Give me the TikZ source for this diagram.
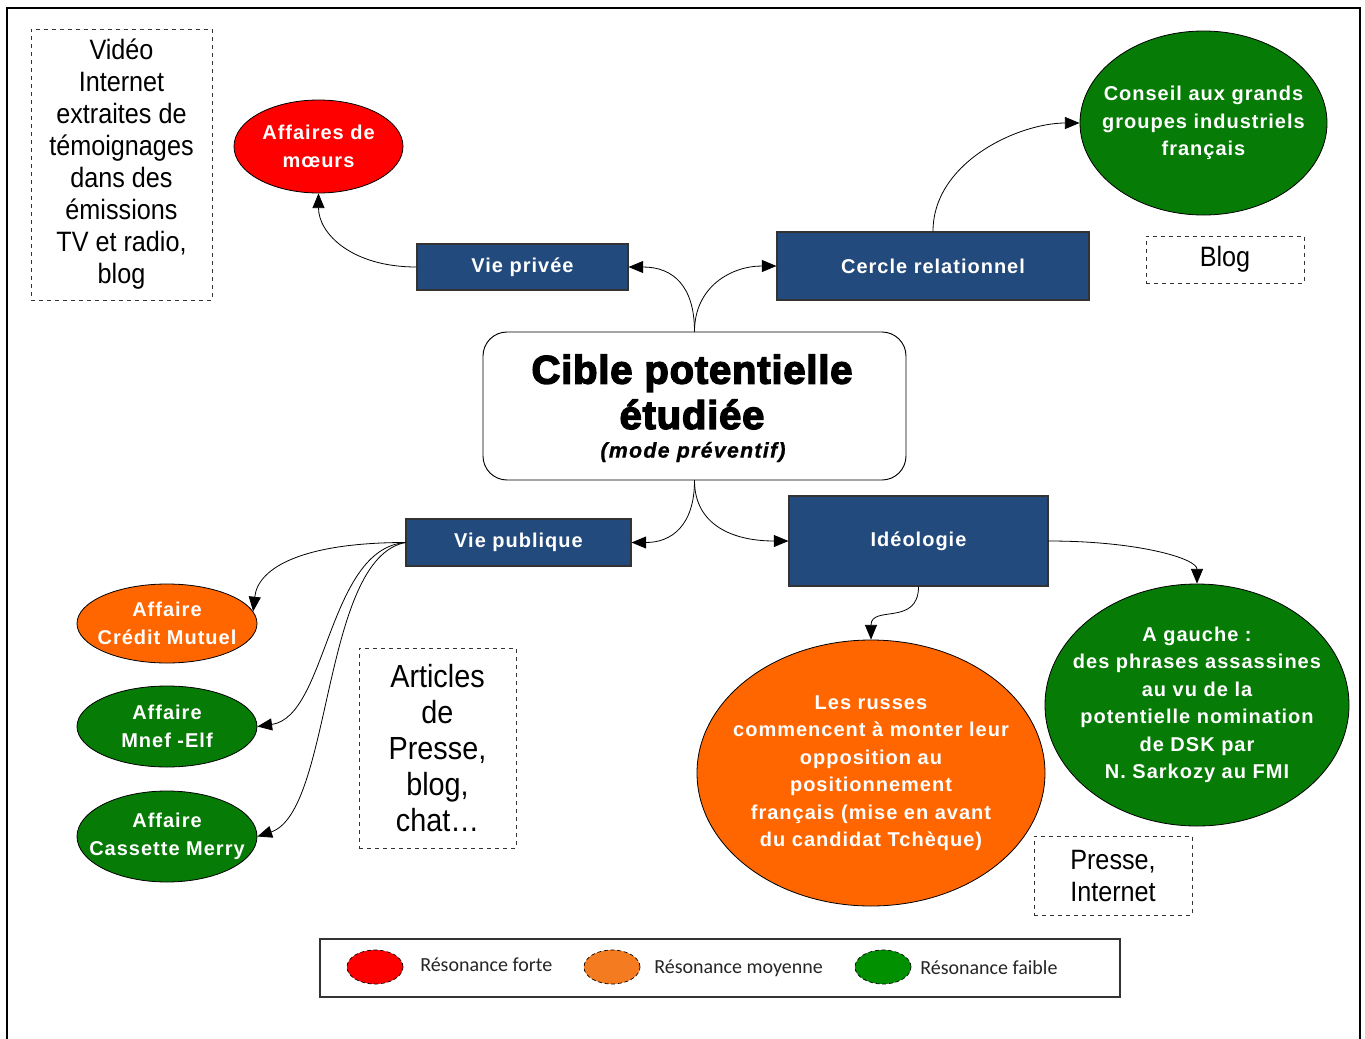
\documentclass[tikz,border=0pt]{standalone}
\usepackage{fontspec}
\setmainfont{Liberation Sans}
\newfontfamily\narrowfont[FakeStretch=0.9]{Liberation Sans}
\newfontfamily\nodefont[LetterSpace=5]{Liberation Sans}
\newfontfamily\heavyfont[FakeBold=3.5,LetterSpace=2]{Liberation Sans}
\newfontfamily\modefont[LetterSpace=6,FakeBold=1]{Liberation Sans}
\newfontfamily\legfont{Carlito}
\usetikzlibrary{shapes.geometric,arrows.meta}
\definecolor{boxblue}{HTML}{224A7C}
\definecolor{myred}{HTML}{FF0000}
\definecolor{myorange}{HTML}{FF6600}
\definecolor{mygreen}{HTML}{067B06}
\definecolor{legorange}{HTML}{F47B20}
\definecolor{leggreen}{HTML}{009000}
\tikzset{
  bluebox/.style={draw=black!80,fill=boxblue,text=white,line width=0.8pt,inner sep=0pt,
    font=\nodefont\bfseries\fontsize{15}{20.6}\selectfont,align=center},
  bubble/.style={ellipse,draw=black,line width=0.6pt,inner sep=0pt},
  bubtext/.style={text=white,align=center,font=\nodefont\bfseries\fontsize{15}{20.6}\selectfont},
  srcbox/.style={draw=black!80,dashed,line width=0.7pt,inner sep=0pt,align=center},
  conn/.style={draw=black,line width=0.6pt,-{Triangle[length=11pt,width=9pt]}},
  legdot/.style={ellipse,draw=black,densely dashed,line width=0.5pt,minimum width=42pt,minimum height=25.5pt,inner sep=0pt},
  legtext/.style={anchor=west,inner sep=0pt,text=black!85,font=\legfont\fontsize{15}{18}\selectfont}
}
\begin{document}
\begin{tikzpicture}[x=0.75pt,y=-0.75pt]
\useasboundingbox (0,0) rectangle (1365,1039);
\fill[white] (0,0) rectangle (1365,1039);
% outer frame
\draw[line width=2.2pt] (7,1045) -- (7,8) -- (1360,8) -- (1360,1045);

% source boxes
\node[srcbox,minimum width=135.75pt,minimum height=203.25pt,font=\narrowfont\fontsize{21}{24}\selectfont] (src1) at (121.5,164.5)
  {Vidéo\\Internet\\extraites de\\témoignages\\dans des\\émissions\\TV et radio,\\blog};
\node[srcbox,minimum width=118.5pt,minimum height=35.25pt,font=\narrowfont\fontsize{21}{24}\selectfont] (src2) at (1225,259.5) {Blog};
\node[srcbox,minimum width=117.75pt,minimum height=150pt,font=\narrowfont\fontsize{24}{27}\selectfont] (src3) at (437.5,748)
  {Articles\\de\\Presse,\\blog,\\chat\dots};
\node[srcbox,minimum width=118.5pt,minimum height=59.25pt,font=\narrowfont\fontsize{21}{24}\selectfont] (src4) at (1113,875.5)
  {Presse,\\Internet};

% centre
\node[draw=black,line width=0.7pt,rounded corners=18pt,minimum width=317.25pt,minimum height=111pt,inner sep=0pt] (cp) at (694.5,406) {};
\node[align=center,inner sep=0pt,font=\heavyfont\bfseries\fontsize{30}{34}\selectfont] (cpt) at (692,392)
  {Cible potentielle\\étudiée};
\node[inner sep=0pt,font=\modefont\bfseries\itshape\fontsize{16}{20}\selectfont] (cpm) at (693,452) {(mode préventif)};

% blue boxes
\node[bluebox,minimum width=158.25pt,minimum height=34.5pt] (vp) at (522.5,267) {Vie privée};
\node[bluebox,minimum width=234pt,minimum height=51pt] (cr) at (933,266) {Cercle relationnel};
\node[bluebox,minimum width=168.75pt,minimum height=35.25pt] (vpub) at (518.5,542.5) {Vie publique};
\node[bluebox,minimum width=194.25pt,minimum height=67.5pt] (ideo) at (918.5,541) {Idéologie};

% bubbles
\node[bubble,fill=myred,minimum width=126.75pt,minimum height=69.75pt] (am) at (318.5,146.5) {};
\node[bubtext] at (am.center) {Affaires de\\mœurs};
\node[bubble,fill=mygreen,minimum width=185.25pt,minimum height=138pt] (cons) at (1203.5,123) {};
\node[bubtext] at (cons.center) {Conseil aux grands\\groupes industriels\\français};
\node[bubble,fill=myorange,minimum width=135pt,minimum height=59.25pt] (cm) at (167,623.5) {};
\node[bubtext] at (cm.center) {Affaire\\Crédit Mutuel};
\node[bubble,fill=mygreen,minimum width=135pt,minimum height=60.75pt] (mn) at (167,726.5) {};
\node[bubtext] at (mn.center) {Affaire\\Mnef -Elf};
\node[bubble,fill=mygreen,minimum width=135pt,minimum height=68.25pt] (cs) at (167,836.5) {};
\node[bubtext] at (cs.center) {Affaire\\Cassette Merry};
\node[bubble,fill=myorange,minimum width=261pt,minimum height=199.5pt] (rus) at (871,773) {};
\node[bubtext] at (rus.center) {Les russes\\commencent à monter leur\\opposition au\\positionnement\\français (mise en avant\\du candidat Tchèque)};
\node[bubble,fill=mygreen,minimum width=228pt,minimum height=181.5pt] (ag) at (1197,705) {};
\node[bubtext] at (ag.center) {A gauche :\\des phrases assassines\\au vu de la\\potentielle nomination\\de DSK par\\N. Sarkozy au FMI};

% connectors
\draw[conn] (cp.north) .. controls +(0,-45) and +(45,0) .. (vp.east);
\draw[conn] (cp.north) .. controls +(0,-45) and +(-45,0) .. (cr.west);
\draw[conn] (vp.west) .. controls +(-65,0) and +(0,40) .. (am.south);
\draw[conn] (cr.north) .. controls +(0,-70) and +(-60,0) .. (cons.west);
\draw[conn] (cp.south) .. controls +(0,45) and +(40,0) .. (vpub.east);
\draw[conn] (cp.south) .. controls +(0,45) and +(-55,0) .. (ideo.west);
\draw[conn] (vpub.west) .. controls +(-100,0) and +(5,-45) .. (cm.8);
\draw[conn] (vpub.west) .. controls +(-78,6) and +(70,-10) .. (mn.east);
\draw[conn] (vpub.west) .. controls +(-84,16) and +(75,-25) .. (cs.east);
\draw[conn] (ideo.south) .. controls +(0,40) and +(0,-35) .. (rus.north);
\draw[conn] (ideo.east) .. controls +(90,0) and +(0,-25) .. (ag.north);

% legend
\node[draw=black!80,line width=0.8pt,minimum width=600pt,minimum height=43.5pt,inner sep=0pt] (leg) at (720,968) {};
\node[legdot,fill=myred] (l1) at (375,967) {};
\node[legtext] (t1) at (420,965) {Résonance forte};
\node[legdot,fill=legorange] (l2) at (612,967) {};
\node[legtext] (t2) at (654,968) {Résonance moyenne};
\node[legdot,fill=leggreen] (l3) at (883,967) {};
\node[legtext] (t3) at (920,968) {Résonance faible};
\end{tikzpicture}
\end{document}
